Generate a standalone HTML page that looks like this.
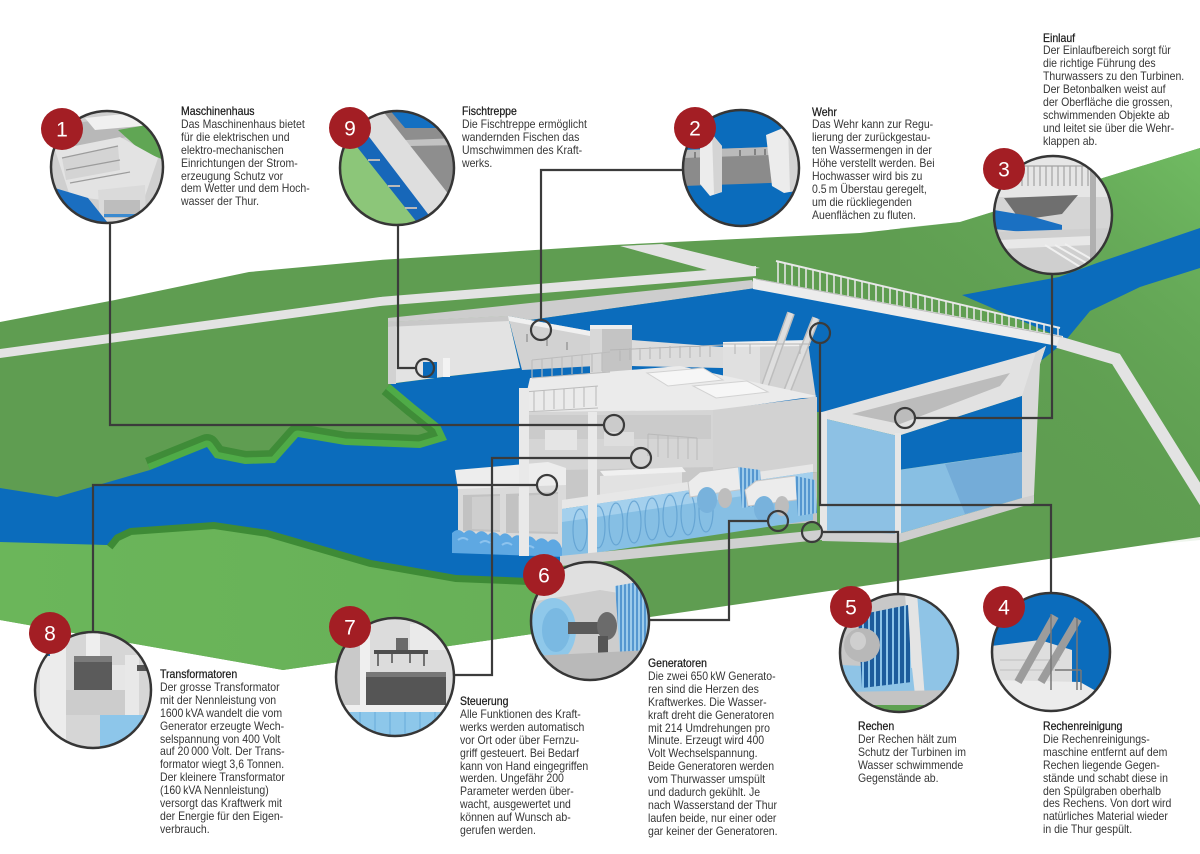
<!DOCTYPE html>
<html><head><meta charset="utf-8">
<style>
html,body{margin:0;padding:0;background:#fff;}
#wrap{position:relative;width:1200px;height:854px;overflow:hidden;background:#fff;}
svg{position:absolute;left:0;top:0;}
.t{position:absolute;font-family:"Liberation Sans",sans-serif;font-size:11.8px;line-height:12.9px;color:#363636;white-space:nowrap;transform:scaleX(0.89);transform-origin:0 0;}
.t b{font-weight:normal;color:#1c1c1c;-webkit-text-stroke:0.25px #1c1c1c;}
</style></head><body><div id="wrap">
<svg width="1200" height="854" viewBox="0 0 1200 854" xmlns="http://www.w3.org/2000/svg">
<defs>
<linearGradient id="gtr" gradientUnits="userSpaceOnUse" x1="1200" y1="150" x2="980" y2="420">
<stop offset="0" stop-color="#70bb62" stop-opacity="1"/><stop offset="1" stop-color="#5f9f51" stop-opacity="0"/></linearGradient>
<linearGradient id="glo" gradientUnits="userSpaceOnUse" x1="0" y1="0" x2="700" y2="0">
<stop offset="0" stop-color="#6bb65a"/><stop offset="1" stop-color="#66ae57"/></linearGradient>
<pattern id="rk" width="4" height="4" patternUnits="userSpaceOnUse"><rect width="4" height="4" fill="#9ccbeb"/><rect width="2" height="4" fill="#5597d0"/></pattern>
<pattern id="rk5" width="6" height="6" patternUnits="userSpaceOnUse"><rect width="6" height="6" fill="#1d5c9c"/><rect x="4" width="2" height="6" fill="#8cc4e8"/></pattern>
<clipPath id="k1"><circle cx="107" cy="167" r="56"/></clipPath>
<clipPath id="k9"><circle cx="397" cy="168" r="57"/></clipPath>
<clipPath id="k2"><circle cx="741" cy="168" r="58"/></clipPath>
<clipPath id="k3"><circle cx="1053" cy="215" r="59"/></clipPath>
<clipPath id="k8"><circle cx="93" cy="690" r="58"/></clipPath>
<clipPath id="k7"><circle cx="395" cy="677" r="59"/></clipPath>
<clipPath id="k6"><circle cx="590" cy="621" r="59"/></clipPath>
<clipPath id="k5"><circle cx="899" cy="653" r="59"/></clipPath>
<clipPath id="k4"><circle cx="1051" cy="652" r="59"/></clipPath>
</defs>

<!-- ===== landscape ===== -->
<polygon points="0,322 115,300 249,272 380,260 613,245 860,233 960,222 1200,148 1200,537 650,617 283,670 0,620" fill="#5f9d51"/>
<polygon points="900,228 960,222 1200,148 1200,540 900,570" fill="url(#gtr)"/>
<polygon points="0,540 107,545 115,535 214,522 268,530 344,545 440,570 490,578 529,578 565,563 600,575 650,617 283,670 0,620" fill="url(#glo)"/>

<!-- roads -->
<polygon points="0,349 380,297 756,266 756,276 380,306 0,358" fill="#e3e3e3"/>
<polygon points="620,246 662,244 760,268 714,272" fill="#e3e3e3"/>
<polygon points="388,318 530,303 752,280 756,288 530,320 508,316 388,322" fill="#cdcdcd"/>

<!-- upstream river & reservoir -->
<polygon points="962,295 1059,277 1097,263 1200,228 1200,268 1140,287 1090,311 1066,340" fill="#0b6cbc"/>
<polygon points="508,316 530,320 756,288 1062,344 1042,360 822,412 520,412 520,368" fill="#0b6cbc"/>

<!-- walkway + railing -->
<polygon points="753,278 1063,336 1063,347 753,289" fill="#ececec"/>
<polyline points="1058,342 1116,359 1205,502" fill="none" stroke="#e3e3e3" stroke-width="12"/>
<path d="M778,261.5V282.6M785,263.2V284M792,264.8V285.4M799,266.5V286.7M806,268.2V288.1M813,269.8V289.5M820,271.5V290.9M827,273.1V292.3M834,274.8V293.6M841,276.4V295M848,278.1V296.4M855,279.7V297.8M862,281.4V299.2M869,283.1V300.5M876,284.7V301.9M883,286.4V303.3M890,288V304.7M897,289.7V306M904,291.3V307.4M911,293V308.8M918,294.7V310.2M925,296.3V311.6M932,298V312.9M939,299.6V314.3M946,301.3V315.7M953,302.9V317.1M960,304.6V318.5M967,306.2V319.8M974,307.9V321.2M981,309.6V322.6M988,311.2V324M995,312.9V325.4M1002,314.5V326.7M1009,316.2V328.1M1016,317.8V329.5M1023,319.5V330.9M1030,321.2V332.3M1037,322.8V333.6M1044,324.5V335M1051,326.1V336.4M1058,327.8V337.8" stroke="#e4e4e4" stroke-width="1.6"/>
<line x1="776" y1="261" x2="1060" y2="328" stroke="#e8e8e8" stroke-width="2"/>
<line x1="756" y1="279" x2="1062" y2="337" stroke="#bdbdbd" stroke-width="1"/>

<!-- river banks + river -->
<path d="M150,470 L207,447 L215,458 L245,464 L275,463 L298,437 L345,445 L420,448 L447,440 L440,425 L415,405 L390,384" fill="none" stroke="#3f8c38" stroke-width="26" stroke-linejoin="round"/>
<path d="M150,470 L207,447 L215,458 L245,464 L275,463 L298,437 L345,445 L420,448 L447,440 L440,425 L415,405 L390,384" fill="none" stroke="#4fab47" stroke-width="13" stroke-linejoin="round"/>
<path d="M107,545 L115,535 L130,528 L214,522 L268,530 L371,560 L456,575 L529,578" fill="none" stroke="#3e8b36" stroke-width="14" stroke-linejoin="round"/>
<path d="M0,488 L57,497 L150,470 L207,447 L215,458 L245,464 L275,463 L298,437 L345,445 L420,448 L447,440 L440,425 L415,405 L390,384 L443,377 L520,368 L560,380 L570,560 L529,578 L456,575 L371,560 L268,530 L214,522 L130,528 L115,535 L107,545 L0,542 Z" fill="#0b6cbc"/>

<!-- ===== intake ===== -->
<polygon points="822,412 1036,352 1046,346 1040,364 1022,396 898,436 822,418" fill="#e2e2e2"/>
<polygon points="852,414 1010,373 1000,386 900,424" fill="#bcbcbc"/>
<polygon points="898,436 1022,396 1022,452 898,470" fill="#0b6cbc"/>
<polygon points="822,418 898,436 898,534 822,534" fill="#8dc1e4"/>
<polygon points="898,470 1022,452 1022,498 898,534" fill="#88bfe3"/>
<polygon points="945,464 1022,452 1022,498 965,514" fill="#74acd8"/>
<rect x="820" y="412" width="7" height="124" fill="#e6e6e6"/>
<rect x="895" y="433" width="6" height="104" fill="#e6e6e6"/>
<polygon points="1036,352 1046,346 1040,364 1034,495 1022,502 1022,396" fill="#d9d9d9"/>
<polygon points="822,532 898,534 1022,498 1034,495 1034,503 898,543 822,541" fill="#cecece"/>

<!-- ===== building ===== -->
<polygon points="388,322 508,316 520,368 450,376 388,384" fill="#e3e3e3"/>
<polygon points="388,322 508,316 509,321 388,327" fill="#c8c8c8"/>
<polygon points="388,327 396,327 396,384 388,384" fill="#d2d2d2"/>
<rect x="423" y="362" width="14" height="16" fill="#0b6cbc"/>
<rect x="443" y="358" width="7" height="19" fill="#f3f3f3"/>
<polygon points="508,316 590,331 596,366 522,370" fill="#d2d2d2"/>
<polygon points="508,316 590,331 590,336 509,321" fill="#f0f0f0"/>
<path d="M527,334v8M547,338v8M567,342v8" stroke="#9a9a9a" stroke-width="1.5"/>
<rect x="590" y="327" width="42" height="48" fill="#c4c4c4"/>
<rect x="590" y="327" width="12" height="48" fill="#d8d8d8"/>
<rect x="590" y="325" width="42" height="4" fill="#ededed"/>
<polygon points="632,340 723,347 723,368 632,366" fill="#dcdcdc"/>
<polygon points="723,345 808,343 816,398 723,398" fill="#d3d3d3"/>
<polygon points="723,345 760,344 760,398 723,398" fill="#e0e0e0"/>
<polygon points="723,342 808,340 810,346 723,347" fill="#efefef"/>
<line x1="762" y1="394" x2="791" y2="313" stroke="#bdbdbd" stroke-width="8"/>
<line x1="762" y1="394" x2="791" y2="313" stroke="#dedede" stroke-width="5"/>
<line x1="786" y1="394" x2="816" y2="318" stroke="#bdbdbd" stroke-width="8"/>
<line x1="786" y1="394" x2="816" y2="318" stroke="#dedede" stroke-width="5"/>
<path d="M610,350L723,345M620,349v12M630,348v12M640,348v12M650,347v12M660,347v12M670,346v12M680,346v12M690,346v12M700,345v12M710,345v12M723,344L810,344M735,344v10M750,344v10M800,344v10" stroke="#b5b5b5" stroke-width="1"/>
<polygon points="530,378 680,366 817,396 713,411 522,413" fill="#ebebeb"/>
<polygon points="647,373 703,368 723,380 668,386" fill="#f6f6f6" stroke="#d2d2d2" stroke-width="1"/>
<polygon points="693,386 747,381 768,392 716,398" fill="#f6f6f6" stroke="#d2d2d2" stroke-width="1"/>
<path d="M532,360L610,352M532,378L610,372M532,360v18M542,359v18M552,358v18M562,357v18M572,356v18M582,355v18M592,354v18M602,353v18M524,392L598,386M524,412L598,408M524,392v20M534,391v20M544,390v20M554,389v20M564,389v20M574,388v20M584,387v20M596,386v20" stroke="#bcbcbc" stroke-width="1.1" fill="none"/>
<polygon points="522,412 713,410 713,470 522,472" fill="#d5d5d5"/>
<rect x="529" y="415" width="182" height="24" fill="#cbcbcb"/>
<rect x="545" y="430" width="32" height="20" fill="#e5e5e5"/>
<rect x="604" y="432" width="30" height="14" fill="#dedede"/>
<path d="M648,434L697,438M648,434v22M658,435v22M668,436v22M678,437v22M688,437v22M697,438v22" stroke="#b9b9b9" stroke-width="1"/>
<polygon points="713,410 817,397 817,472 713,478" fill="#d2d2d2"/>
<polygon points="713,478 817,472 817,522 713,530" fill="#c3c3c3"/>
<polygon points="562,470 713,467 713,502 562,507" fill="#c8c8c8"/>
<polygon points="600,476 682,472 682,498 600,502" fill="#e2e2e2"/>
<polygon points="600,471 682,467 686,472 604,476" fill="#f0f0f0"/>
<polygon points="455,470 548,462 566,468 566,486 458,490" fill="#ededed"/>
<polygon points="458,489 566,485 566,553 458,549" fill="#dadada"/>
<polygon points="463,495 500,494 500,532 463,531" fill="#c2c2c2"/>
<polygon points="506,494 558,492 558,534 506,533" fill="#c2c2c2"/>
<polygon points="472,497 500,496 500,530 472,529" fill="#cecece"/>
<polygon points="518,496 558,494 558,532 518,531" fill="#cecece"/>
<path d="M452,533 q6,-6 12,0 q6,-6 12,1 q6,-6 12,1 q6,-6 12,1 q6,-6 12,2 q6,-6 12,1 q6,-6 12,2 q6,-6 12,1 q6,-6 12,2 L566,557 L452,553 Z" fill="#5ea8e2"/>
<path d="M458,540 q5,-4 10,0 M480,543 q5,-4 10,0 M502,545 q5,-4 10,0 M524,548 q5,-4 10,0" stroke="#8cc3ee" stroke-width="2" fill="none"/>
<polygon points="562,500 813,464 813,472 562,509" fill="#e7e7e7"/>
<polygon points="562,509 813,472 813,520 562,558" fill="#86bfe4"/>
<polygon points="562,509 813,472 813,486 562,522" fill="#a4d0ed"/>
<g fill="none" stroke="#5f9fd0" stroke-width="1.2" opacity="0.8">
<ellipse cx="580" cy="530" rx="7" ry="21"/><ellipse cx="598" cy="527" rx="7" ry="21"/><ellipse cx="616" cy="524" rx="7" ry="21"/><ellipse cx="634" cy="522" rx="7" ry="21"/><ellipse cx="652" cy="519" rx="7" ry="21"/><ellipse cx="670" cy="516" rx="7" ry="21"/><ellipse cx="688" cy="514" rx="7" ry="21"/><ellipse cx="706" cy="511" rx="7" ry="21"/>
</g>
<rect x="519" y="388" width="10" height="168" fill="#e9e9e9"/>
<rect x="588" y="412" width="9" height="144" fill="#e9e9e9"/>
<polygon points="688,482 700,472 738,467 745,476 745,489 690,497" fill="#ececec" stroke="#c7c7c7" stroke-width="1"/>
<polygon points="738,467 760,470 762,505 742,508" fill="url(#rk)"/>
<ellipse cx="707" cy="500" rx="10" ry="13" fill="#78b2dc"/>
<ellipse cx="725" cy="498" rx="7" ry="10" fill="#bdbdbd"/>
<polygon points="745,490 756,481 795,476 803,486 803,499 748,506" fill="#ececec" stroke="#c7c7c7" stroke-width="1"/>
<polygon points="795,476 815,480 817,513 798,516" fill="url(#rk)"/>
<ellipse cx="764" cy="509" rx="10" ry="13" fill="#78b2dc"/>
<ellipse cx="782" cy="506" rx="7" ry="10" fill="#bdbdbd"/>
<polygon points="560,556 820,530 900,534 900,541 820,540 560,566" fill="#d0d0d0"/>

<!-- ===== connectors ===== -->
<g fill="none" stroke="#3b3b3b" stroke-width="2.2">
<path d="M110,223V425H604"/><circle cx="614" cy="425" r="10"/>
<path d="M398,225V368H416"/><circle cx="425" cy="368" r="9"/>
<path d="M683,170H541V320"/><circle cx="541" cy="330" r="10"/>
<path d="M1052,274V418H915"/><circle cx="905" cy="418" r="10"/>
<path d="M1051,593V505H820V343"/><circle cx="820" cy="333" r="10"/>
<path d="M898,594V532H822"/><circle cx="812" cy="532" r="10"/>
<path d="M649,620H729V521H768"/><circle cx="778" cy="521" r="10"/>
<path d="M454,675H492V458H631"/><circle cx="641" cy="458" r="10"/>
<path d="M93,632V485H537"/><circle cx="547" cy="485" r="10"/>
</g>

<!-- ===== medallions ===== -->
<g clip-path="url(#k1)">
<rect x="50" y="110" width="114" height="114" fill="#cfcfcf"/>
<polygon points="60,125 160,112 164,112 164,130 60,150" fill="#b8b8b8"/>
<polygon points="85,118 164,110 164,124 95,130" fill="#f0f0f0"/>
<polygon points="118,130 164,122 164,160 140,150" fill="#60a654"/>
<polygon points="55,150 120,137 158,158 142,205 70,196" fill="#e3e3e3"/>
<polygon points="62,158 118,146 120,170 66,180" fill="#d4d4d4"/>
<path d="M62,158L118,146M66,170L120,160M70,183L130,172" stroke="#9c9c9c" stroke-width="1.2"/>
<polygon points="98,190 145,185 146,222 100,224" fill="#dadada"/>
<rect x="104" y="200" width="36" height="18" fill="#bdbdbd"/>
<polygon points="48,186 88,198 112,228 48,228" fill="#1a6ec0"/>
<rect x="104" y="214" width="36" height="3" fill="#3a8ad0"/>
</g>
<circle cx="107" cy="167" r="56" fill="none" stroke="#363636" stroke-width="2.5"/>
<g clip-path="url(#k9)">
<rect x="338" y="110" width="118" height="118" fill="#8cc679"/>
<polygon points="378,105 460,105 460,215" fill="#8e8e8e"/>
<polygon points="388,108 460,108 460,128 405,128" fill="#1470c2"/>
<polygon points="405,140 460,138 460,145 410,146" fill="#c2c2c2"/>
<polygon points="352,115 378,105 465,215 440,232" fill="#dedede"/>
<polygon points="342,128 354,117 441,231 427,235" fill="#1767b9"/>
<path d="M347,138h12M368,160h12M388,186h12M405,208h12" stroke="#b9b9b9" stroke-width="2"/>
</g>
<circle cx="397" cy="168" r="57" fill="none" stroke="#363636" stroke-width="2.5"/>
<g clip-path="url(#k2)">
<rect x="682" y="109" width="118" height="118" fill="#0b6cbc"/>
<polygon points="683,150 800,146 800,182 683,186" fill="#8b8b8b"/>
<polygon points="683,150 800,146 800,154 683,158" fill="#bababa"/>
<path d="M695,152v6M710,151v6M740,150v6M755,149v6M765,149v6" stroke="#6f6f6f" stroke-width="1.5"/>
<polygon points="700,140 712,134 722,146 722,192 710,196 700,184" fill="#ececec"/>
<polygon points="712,134 722,146 722,192 714,194" fill="#d4d4d4"/>
<polygon points="766,135 788,126 800,136 800,190 784,193 772,186" fill="#ececec"/>
<polygon points="788,126 800,136 800,190 790,192" fill="#d4d4d4"/>
</g>
<circle cx="741" cy="168" r="58" fill="none" stroke="#363636" stroke-width="2.5"/>
<g clip-path="url(#k3)">
<rect x="993" y="155" width="120" height="120" fill="#d5d5d5"/>
<rect x="993" y="155" width="120" height="42" fill="#e6e6e6"/>
<path d="M1010,166L1100,166M1010,166v20M1016,166v20M1022,166v20M1028,166v20M1034,166v20M1040,166v20M1046,166v20M1052,166v20M1058,166v20M1064,166v20M1070,166v20M1076,166v20M1082,166v20M1088,166v20M1094,166v20" stroke="#a3a3a3" stroke-width="1.2"/>
<polygon points="1004,198 1078,195 1062,214 1020,220" fill="#6f6f6f"/>
<polygon points="994,210 1030,216 1062,225 1062,236 994,229" fill="#1a70c2"/>
<polygon points="994,232 1112,228 1112,276 994,276" fill="#cfcfcf"/>
<polygon points="1000,240 1090,236 1090,245 1000,249" fill="#e8e8e8"/>
<path d="M1045,245L1085,270M1055,245L1095,268M1065,244L1100,264" stroke="#f0f0f0" stroke-width="2"/>
<rect x="1090" y="160" width="6" height="100" fill="#b0b0b0"/>
</g>
<circle cx="1053" cy="215" r="59" fill="none" stroke="#363636" stroke-width="2.5"/>
<g clip-path="url(#k8)">
<rect x="34" y="631" width="118" height="118" fill="#d6d6d6"/>
<rect x="40" y="640" width="26" height="110" fill="#ececec"/>
<rect x="125" y="655" width="14" height="95" fill="#e8e8e8"/>
<rect x="86" y="630" width="14" height="30" fill="#eeeeee"/>
<rect x="74" y="656" width="38" height="6" fill="#7a7a7a"/>
<rect x="74" y="662" width="38" height="28" fill="#5b5b5b"/>
<rect x="112" y="665" width="13" height="25" fill="#e6e6e6"/>
<rect x="137" y="665" width="15" height="6" fill="#555"/>
<rect x="66" y="690" width="59" height="25" fill="#cccccc"/>
<rect x="100" y="715" width="52" height="35" fill="#8dc6ea"/>
<rect x="34" y="646" width="16" height="10" fill="#1a6ec0"/>
</g>
<circle cx="93" cy="690" r="58" fill="none" stroke="#363636" stroke-width="2.5"/>
<g clip-path="url(#k7)">
<rect x="335" y="617" width="120" height="120" fill="#dcdcdc"/>
<rect x="335" y="617" width="25" height="120" fill="#c9c9c9"/>
<rect x="360" y="617" width="10" height="120" fill="#efefef"/>
<rect x="410" y="624" width="42" height="26" fill="#eaeaea"/>
<rect x="396" y="638" width="12" height="12" fill="#6a6a6a"/>
<rect x="374" y="650" width="54" height="4" fill="#4e4e4e"/>
<path d="M378,654v12M424,654v12M392,654v9M410,654v9" stroke="#4e4e4e" stroke-width="1.5"/>
<rect x="366" y="672" width="80" height="5" fill="#777"/>
<rect x="366" y="677" width="80" height="28" fill="#555"/>
<rect x="335" y="705" width="120" height="7" fill="#efefef"/>
<rect x="335" y="712" width="120" height="28" fill="#8dc7ea"/>
<path d="M345,712v28M360,712v28M375,712v28M390,712v28M405,712v28M420,712v28M435,712v28" stroke="#74b4e0" stroke-width="1.5"/>
</g>
<circle cx="395" cy="677" r="59" fill="none" stroke="#363636" stroke-width="2.5"/>
<g clip-path="url(#k6)">
<rect x="530" y="561" width="120" height="120" fill="#cdcdcd"/>
<polygon points="530,561 650,561 650,598 600,590 530,602" fill="#e0e0e0"/>
<polygon points="615,586 650,580 650,660 620,655" fill="url(#rk)"/>
<ellipse cx="553" cy="630" rx="23" ry="32" fill="#8fc8ea"/>
<ellipse cx="556" cy="630" rx="14" ry="22" fill="#7ab9e2"/>
<rect x="568" y="622" width="32" height="12" fill="#5a5a5a"/>
<ellipse cx="607" cy="626" rx="10" ry="14" fill="#6b6b6b"/>
<rect x="598" y="636" width="10" height="20" fill="#555"/>
<polygon points="530,656 650,650 650,682 530,682" fill="#b9b9b9"/>
</g>
<circle cx="590" cy="621" r="59" fill="none" stroke="#363636" stroke-width="2.5"/>
<g clip-path="url(#k5)">
<rect x="839" y="593" width="120" height="120" fill="#c8c8c8"/>
<polygon points="917,593 960,593 960,700 925,700" fill="#8fc4e6"/>
<polygon points="905,593 917,593 925,700 912,700" fill="#e4e4e4"/>
<polygon points="840,665 912,668 915,695 840,695" fill="#8fc4e6"/>
<polygon points="858,615 908,605 912,682 862,688" fill="url(#rk5)"/>
<ellipse cx="862" cy="645" rx="18" ry="17" fill="#b8b8b8"/>
<ellipse cx="858" cy="641" rx="8" ry="9" fill="#cfcfcf"/>
<polygon points="840,692 960,690 960,713 840,713" fill="#c4c4c4"/>
<rect x="865" y="705" width="70" height="8" fill="#5ea152"/>
</g>
<circle cx="899" cy="653" r="59" fill="none" stroke="#363636" stroke-width="2.5"/>
<g clip-path="url(#k4)">
<rect x="991" y="592" width="120" height="120" fill="#0b6cbc"/>
<polygon points="991,646 1040,640 1072,650 1072,690 1112,700 1112,713 991,713" fill="#dedede"/>
<polygon points="991,680 1080,682 1112,700 1112,713 991,713" fill="#ececec"/>
<path d="M1000,660h60M1000,670h60" stroke="#c4c4c4" stroke-width="1.2"/>
<line x1="1018" y1="682" x2="1055" y2="616" stroke="#9c9c9c" stroke-width="8"/>
<line x1="1041" y1="682" x2="1078" y2="619" stroke="#9c9c9c" stroke-width="8"/>
<path d="M1051,614v76M1077,618v72M1055,670h26M1081,670v20" stroke="#777" stroke-width="1.5"/>
</g>
<circle cx="1051" cy="652" r="59" fill="none" stroke="#363636" stroke-width="2.5"/>

<g fill="#a31e24">
<circle cx="62" cy="129" r="21"/><circle cx="350" cy="128" r="21"/><circle cx="695" cy="128" r="21"/>
<circle cx="1004" cy="169" r="21"/><circle cx="50" cy="633" r="21"/><circle cx="350" cy="627" r="21"/>
<circle cx="544" cy="575" r="21"/><circle cx="851" cy="607" r="21"/><circle cx="1004" cy="607" r="21"/>
</g>
<g fill="#ffffff" font-family="Liberation Sans, sans-serif" font-size="21" text-anchor="middle">
<text x="62" y="136.5">1</text><text x="350" y="135.5">9</text><text x="695" y="135.5">2</text>
<text x="1004" y="176.5">3</text><text x="50" y="640.5">8</text><text x="350" y="634.5">7</text>
<text x="544" y="582.5">6</text><text x="851" y="614.5">5</text><text x="1004" y="614.5">4</text>
</g>
</svg>

<div class="t" style="left:181px;top:105px"><b>Maschinenhaus</b><br>Das Maschinenhaus bietet<br>für die elektrischen und<br>elektro-mechanischen<br>Einrichtungen der Strom-<br>erzeugung Schutz vor<br>dem Wetter und dem Hoch-<br>wasser der Thur.</div>
<div class="t" style="left:462px;top:105px"><b>Fischtreppe</b><br>Die Fischtreppe ermöglicht<br>wandernden Fischen das<br>Umschwimmen des Kraft-<br>werks.</div>
<div class="t" style="left:812px;top:105.5px"><b>Wehr</b><br>Das Wehr kann zur Regu-<br>lierung der zurückgestau-<br>ten Wassermengen in der<br>Höhe verstellt werden. Bei<br>Hochwasser wird bis zu<br>0.5&#8201;m Überstau geregelt,<br>um die rückliegenden<br>Auenflächen zu fluten.</div>
<div class="t" style="left:1043px;top:31.5px"><b>Einlauf</b><br>Der Einlaufbereich sorgt für<br>die richtige Führung des<br>Thurwassers zu den Turbinen.<br>Der Betonbalken weist auf<br>der Oberfläche die grossen,<br>schwimmenden Objekte ab<br>und leitet sie über die Wehr-<br>klappen ab.</div>
<div class="t" style="left:160px;top:668px"><b>Transformatoren</b><br>Der grosse Transformator<br>mit der Nennleistung von<br>1600&#8201;kVA wandelt die vom<br>Generator erzeugte Wech-<br>selspannung von 400 Volt<br>auf 20&#8201;000 Volt. Der Trans-<br>formator wiegt 3,6 Tonnen.<br>Der kleinere Transformator<br>(160&#8201;kVA Nennleistung)<br>versorgt das Kraftwerk mit<br>der Energie für den Eigen-<br>verbrauch.</div>
<div class="t" style="left:460px;top:695px"><b>Steuerung</b><br>Alle Funktionen des Kraft-<br>werks werden automatisch<br>vor Ort oder über Fernzu-<br>griff gesteuert. Bei Bedarf<br>kann von Hand eingegriffen<br>werden. Ungefähr 200<br>Parameter werden über-<br>wacht, ausgewertet und<br>können auf Wunsch ab-<br>gerufen werden.</div>
<div class="t" style="left:648px;top:657px"><b>Generatoren</b><br>Die zwei 650&#8201;kW Generato-<br>ren sind die Herzen des<br>Kraftwerkes. Die Wasser-<br>kraft dreht die Generatoren<br>mit 214 Umdrehungen pro<br>Minute. Erzeugt wird 400<br>Volt Wechselspannung.<br>Beide Generatoren werden<br>vom Thurwasser umspült<br>und dadurch gekühlt. Je<br>nach Wasserstand der Thur<br>laufen beide, nur einer oder<br>gar keiner der Generatoren.</div>
<div class="t" style="left:858px;top:720px"><b>Rechen</b><br>Der Rechen hält zum<br>Schutz der Turbinen im<br>Wasser schwimmende<br>Gegenstände ab.</div>
<div class="t" style="left:1043px;top:720px"><b>Rechenreinigung</b><br>Die Rechenreinigungs-<br>maschine entfernt auf dem<br>Rechen liegende Gegen-<br>stände und schabt diese in<br>den Spülgraben oberhalb<br>des Rechens. Von dort wird<br>natürliches Material wieder<br>in die Thur gespült.</div>
</div></body></html>
